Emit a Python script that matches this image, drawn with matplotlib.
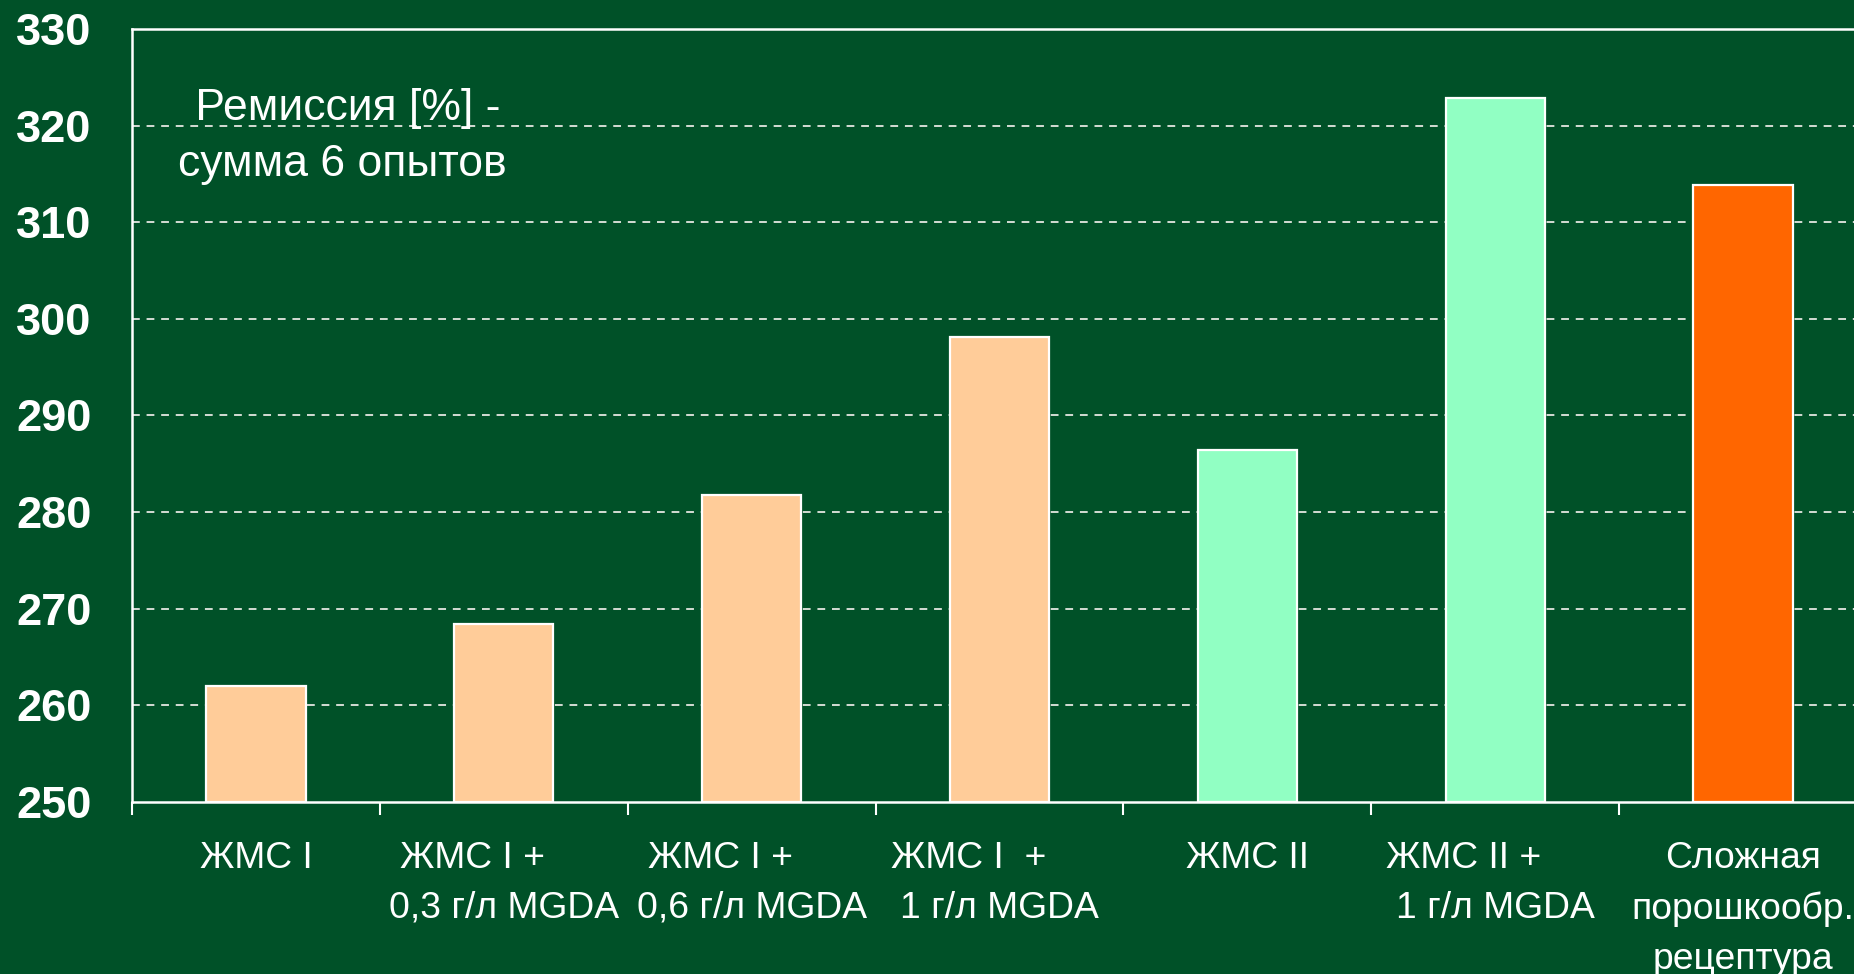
import matplotlib
matplotlib.use("Agg")
import matplotlib.pyplot as plt
import numpy as np

NB = "\u00a0"
categories = [
    "ЖМС I",
    "ЖМС I +" + NB * 6 + "\n0,3 г/л MGDA",
    "ЖМС I +" + NB * 6 + "\n0,6 г/л MGDA",
    "ЖМС I  +" + NB * 6 + "\n1 г/л MGDA",
    "ЖМС II",
    "ЖМС II +" + NB * 6 + "\n1 г/л MGDA",
    "Сложная\nпорошкообр.\nрецептура",
]
values = [262.0, 268.4, 281.8, 298.1, 286.4, 322.8, 313.8]
bar_colors = ["#FFCC99", "#FFCC99", "#FFCC99", "#FFCC99", "#91FFC3", "#91FFC3", "#FF6600"]
y_ticks = [250, 260, 270, 280, 290, 300, 310, 320, 330]
annotation = " Ремиссия [%] -\nсумма 6 опытов"

BG = "#005128"
FONT = ["Liberation Sans", "DejaVu Sans"]

fig = plt.figure(figsize=(18.54, 9.74), dpi=100, facecolor=BG)
ax = fig.add_axes([132 / 1854, 172 / 974, (1867 - 132) / 1854, (802 - 28.9) / 974])
ax.set_facecolor(BG)

x = np.arange(len(categories))
ax.bar(x, np.array(values) - 250, bottom=250, width=0.40, color=bar_colors,
       edgecolor="white", linewidth=1.6, zorder=3)

ax.set_xlim(-0.5, len(categories) - 0.5)
ax.set_ylim(250, 330)

# grid lines
ax.set_yticks(y_ticks)
ax.set_yticklabels([str(t) for t in y_ticks], fontsize=32.5, fontweight="bold",
                   color="white", family=FONT)
ax.tick_params(axis="y", length=0, pad=29)
for t in y_ticks[1:-1]:
    ax.axhline(t, color="#d4dcd4", linestyle=(0, (4.0, 3.5)), linewidth=1.4, zorder=1)

# x ticks at boundaries, labels at centers
ax.set_xticks(np.arange(len(categories) + 1) - 0.5)
ax.set_xticklabels([])
ax.tick_params(axis="x", which="major", length=9, width=1.5, color="white", direction="out")
ax.set_xticks(x, minor=True)
ax.set_xticklabels(categories, minor=True, fontsize=26.8, color="white", family=FONT,
                   linespacing=1.55)
ax.tick_params(axis="x", which="minor", length=0, pad=28)

for side in ["top", "left", "bottom"]:
    ax.spines[side].set_color("white")
    ax.spines[side].set_linewidth(1.8)
ax.spines["right"].set_visible(False)

ax.text(0.121, 0.861, annotation, transform=ax.transAxes, ha="center", va="center",
        multialignment="center", fontsize=32, color="white", family=FONT,
        linespacing=1.49)

fig.savefig("out.png", dpi=100, facecolor=BG)
